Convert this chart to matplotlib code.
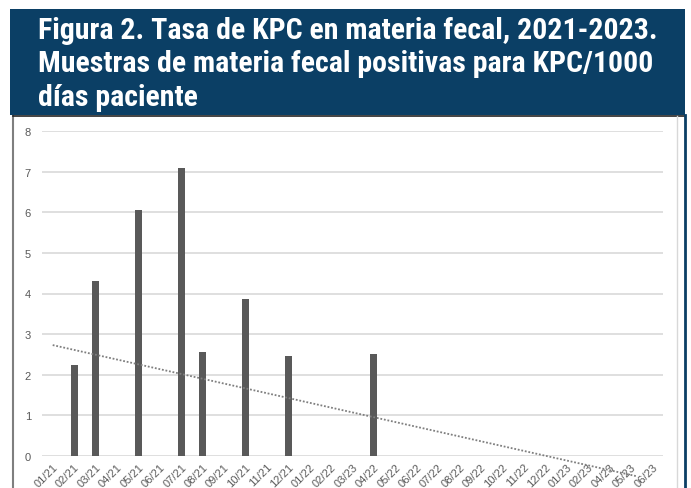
import matplotlib
matplotlib.use("Agg")
import matplotlib.pyplot as plt
import numpy as np
from matplotlib.patches import Rectangle
from matplotlib import font_manager

months = ["01/21", "02/21", "03/21", "04/21", "05/21", "06/21", "07/21", "08/21",
          "09/21", "10/21", "11/21", "12/21", "01/22", "02/22", "03/23", "04/22",
          "05/22", "06/22", "07/22", "08/22", "09/22", "10/22", "11/22", "12/22",
          "01/23", "02/23", "04/23", "05/23", "06/23"]
rates = [0, 2.25, 4.3, 0, 6.06, 0, 7.08, 2.57, 0, 3.87, 0, 2.47, 0, 0, 0, 2.51,
         0, 0, 0, 0, 0, 0, 0, 0, 0, 0, 0, 0, 0]
yticks = [0, 1, 2, 3, 4, 5, 6, 7, 8]
title = "Figura 2. Tasa de KPC en materia fecal, 2021-2023.\nMuestras de materia fecal positivas para KPC/1000\ndías paciente"

W, H = 691, 489
fig = plt.figure(figsize=(W / 100, H / 100), dpi=100)
fig.patch.set_facecolor("white")

names = {f.name for f in font_manager.fontManager.ttflist}
fam = [n for n in ["Roboto Condensed", "Barlow Semi Condensed", "Barlow Condensed"] if n in names][:1]
fam += ["Roboto", "DejaVu Sans"]

# banner
fig.patches.append(Rectangle((10 / W, 1 - 116 / H), 675 / W, 106 / H,
                             transform=fig.transFigure, facecolor="#0b3f65",
                             edgecolor="none", zorder=-2))
fig.lines.append(plt.Line2D([13 / W, 13 / W], [0, 1 - 117 / H], transform=fig.transFigure,
                            color="#7f7f7f", lw=1.5, zorder=-1))
fig.lines.append(plt.Line2D([13 / W, 685 / W], [1 - 116.5 / H, 1 - 116.5 / H],
                            transform=fig.transFigure, color="#222222", lw=1.2, zorder=-1))
fig.lines.append(plt.Line2D([677 / W, 677 / W], [0, 1 - 117 / H], transform=fig.transFigure,
                            color="#d8d8d8", lw=1, zorder=-1))
fig.lines.append(plt.Line2D([684.5 / W, 684.5 / W], [0, 1 - 116 / H], transform=fig.transFigure,
                            color="#0b3f65", lw=2, zorder=-1))

fig.text(38 / W, 1 - 17 / H, title, color="white", fontsize=21.5, fontweight="bold",
         family=fam, va="top", ha="left", linespacing=1.25)

ax = fig.add_axes([42 / W, 1 - 457 / H, 621 / W, 325 / H])
ax.patch.set_alpha(0)
x = np.arange(len(months))
ax.bar(x, rates, width=0.33, color="#595959", zorder=3)
ax.set_xlim(-0.5, len(months) - 0.5)
ax.set_ylim(0, 8)
ax.set_yticks(yticks)
ax.set_yticklabels([str(v) for v in yticks], color="#595959", fontsize=8, family="Liberation Sans")
ax.set_xticks(x)
ax.set_xticklabels(months, rotation=45, ha="right", rotation_mode="anchor",
                   color="#595959", fontsize=8, family="Liberation Sans")
ax.tick_params(axis="both", length=0, pad=8)
ax.tick_params(axis="x", pad=4)
ax.grid(axis="y", color="#d9d9d9", lw=1.2, zorder=0)
for s in ax.spines.values():
    s.set_visible(False)

coef = np.polyfit(x, rates, 1)
xt = np.array([0, 27.3])
ax.plot(xt, np.polyval(coef, xt), ls=(0, (1, 1)), color="#7f7f7f", lw=1.3, clip_on=False, zorder=4)

fig.savefig("out.png", dpi=100)
